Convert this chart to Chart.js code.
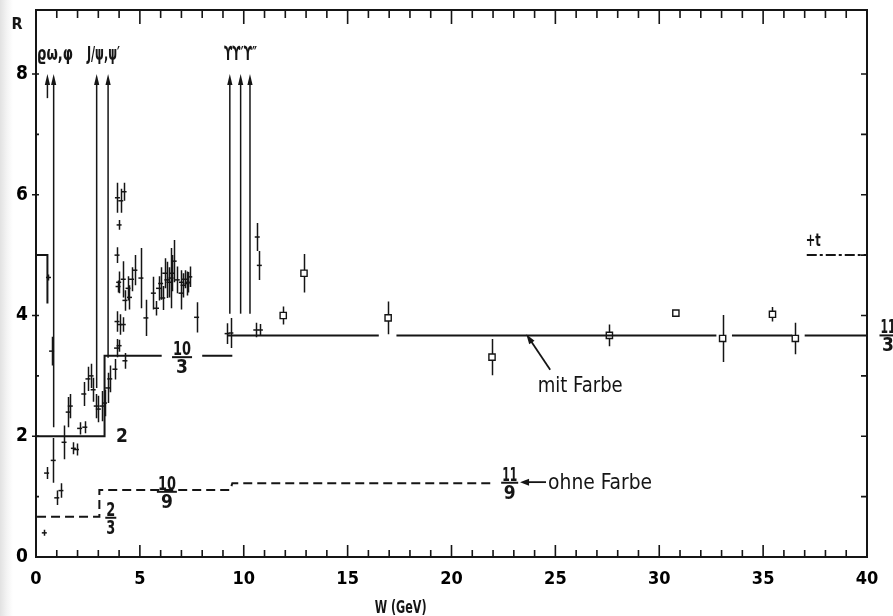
<!DOCTYPE html>
<html>
<head>
<meta charset="utf-8">
<title>R vs W</title>
<script src="https://cdn.jsdelivr.net/npm/chart.js@4.4.1/dist/chart.umd.min.js"></script>
<style>
  html, body { margin: 0; padding: 0; background: #fff; }
  #wrap { width: 893px; height: 616px; position: relative;
          background: linear-gradient(to right, #e2e2e2 0px, #f4f4f4 7px, #fff 13px); }
</style>
</head>
<body>
<div id="wrap"><canvas id="rplot"></canvas></div>
<script>
// low energy measurements: W (GeV), R, error
var lowW   = [0.40, 0.51, 0.60, 0.75, 0.83, 1.00, 1.20, 1.35, 1.55, 1.65, 1.80, 1.95, 2.10, 2.30, 2.35,
              2.50, 2.65, 2.75, 2.90, 3.00, 3.17, 3.30, 3.45, 3.55, 3.80, 3.88, 3.90, 3.90, 3.92, 3.95,
              3.98, 4.00, 4.00, 4.04, 4.08, 4.20, 4.20, 4.24, 4.28, 4.28, 4.43, 4.50, 4.60, 4.76, 5.05,
              5.29, 5.65, 5.80, 5.90, 6.00, 6.10, 6.20, 6.30, 6.40, 6.50, 6.55, 6.65, 6.80, 6.98, 7.00,
              7.08, 7.15, 7.27, 7.33, 7.40, 7.73, 9.20, 9.38, 10.58, 10.65, 10.75, 10.80];
var lowR   = [0.40, 1.39, 4.63, 3.41, 1.60, 0.98, 1.10, 1.90, 2.40, 2.50, 1.80, 1.78, 2.13, 2.70, 2.15,
              2.95, 3.00, 2.77, 2.50, 2.45, 2.50, 2.55, 2.80, 2.95, 3.11, 3.46, 3.90, 5.00, 5.95, 4.48,
              4.55, 3.50, 5.50, 3.85, 5.90, 3.85, 4.60, 6.05, 3.25, 4.25, 4.45, 4.30, 4.60, 4.75, 4.62,
              3.96, 4.37, 4.12, 4.45, 4.53, 4.29, 4.70, 4.59, 4.55, 4.62, 4.70, 4.90, 4.59, 4.37, 4.55,
              4.50, 4.60, 4.53, 4.55, 4.64, 3.97, 3.70, 3.71, 3.76, 5.30, 4.83, 3.76];
var lowErr = [0.05, 0.10, 0.05, 0.24, 0.37, 0.12, 0.12, 0.28, 0.25, 0.20, 0.10, 0.10, 0.10, 0.20, 0.10,
              0.20, 0.20, 0.20, 0.20, 0.22, 0.25, 0.22, 0.25, 0.22, 0.17, 0.15, 0.17, 0.13, 0.25, 0.10,
              0.18, 0.10, 0.08, 0.17, 0.20, 0.12, 0.30, 0.15, 0.13, 0.17, 0.20, 0.20, 0.20, 0.25, 0.50,
              0.30, 0.27, 0.12, 0.20, 0.27, 0.20, 0.25, 0.30, 0.25, 0.50, 0.30, 0.35, 0.22, 0.27, 0.20,
              0.20, 0.15, 0.20, 0.17, 0.17, 0.25, 0.17, 0.25, 0.12, 0.23, 0.24, 0.10];

// high energy measurements (open squares)
var highW   = [11.9, 12.9, 16.95, 21.95, 27.6, 30.8, 33.05, 35.45, 36.55];
var highR   = [4.00, 4.70, 3.96, 3.31, 3.67, 4.04, 3.62, 4.02, 3.62];
var highErr = [0.15, 0.32, 0.27, 0.30, 0.18, 0.00, 0.39, 0.12, 0.26];

// quark model expectation with colour (solid), null = gap
var colourW = [0, 3.3, 3.3, 6.05, null, 8.0, 9.45, null, 9.2, 16.5, null, 17.35, 32.75, null, 33.5, 36.4, null, 37.0, 40];
var colourR = [2, 2, 10/3, 10/3, null, 10/3, 10/3, null, 11/3, 11/3, null, 11/3, 11/3, null, 11/3, 11/3, null, 11/3, 11/3];

// without colour (dashed)
var noColourW = [0.05, 3.05, 3.05, 9.35, 9.45, 22.0];
var noColourR = [2/3, 2/3, 10/9, 10/9, 11/9, 11/9];

// top quark threshold (dash-dot)
var topW = [37.1, 40];
var topR = [5, 5];

// step near the rho
var rhoW = [0, 0.55, 0.55];
var rhoR = [5, 5, 4.2];

// resonance arrows: position, foot, tip
var arrowW    = [0.55, 0.85, 2.92, 3.47, 9.33, 9.85, 10.3];
var arrowFoot = [7.6, 2.15, 2.8, 3.3, 4.03, 4.03, 4.03];
var arrowTip  = [8.0, 8.0, 8.0, 8.0, 8.0, 8.0, 8.0];

var ink = '#151515';
var narrow = '"Liberation Sans Narrow", "DejaVu Sans Condensed", "Liberation Sans", Arial, sans-serif';

function pts(xs, ys) {
  return xs.map(function(x, i) { return { x: x, y: ys[i] }; });
}

function drawArrow(ctx, x1, y1, x2, y2, len, half) {
  var ang = Math.atan2(y2 - y1, x2 - x1);
  var bx = x2 - Math.cos(ang) * len, by = y2 - Math.sin(ang) * len;
  ctx.beginPath();
  ctx.moveTo(x1, y1);
  ctx.lineTo(bx + Math.cos(ang) * 2, by + Math.sin(ang) * 2);
  ctx.stroke();
  ctx.beginPath();
  ctx.moveTo(x2, y2);
  ctx.lineTo(bx - Math.sin(ang) * half, by + Math.cos(ang) * half);
  ctx.lineTo(bx + Math.sin(ang) * half, by - Math.cos(ang) * half);
  ctx.closePath();
  ctx.fill();
}

function fraction(ctx, x, y, num, den, size, w) {
  ctx.font = 'bold ' + size + 'px ' + narrow;
  ctx.textAlign = 'center';
  ctx.textBaseline = 'alphabetic';
  ctx.fillText(num, x, y - 2, w);
  ctx.fillText(den, x, y + size - 3, w);
  ctx.fillRect(x - w / 2 - 1, y - 1, w + 2, 2);
}

var errorBars = {
  id: 'errorBars',
  beforeDatasetsDraw: function(chart) {
    var ctx = chart.ctx, xs = chart.scales.x, ys = chart.scales.y;
    ctx.save();
    ctx.strokeStyle = ink;
    ctx.lineWidth = 1.5;
    chart.data.datasets.forEach(function(ds) {
      if (!ds.errors) return;
      ctx.beginPath();
      ds.data.forEach(function(p, j) {
        var e = ds.errors[j];
        if (!e) return;
        var px = Math.round(xs.getPixelForValue(p.x)) + 0.5;
        ctx.moveTo(px, ys.getPixelForValue(p.y - e));
        ctx.lineTo(px, ys.getPixelForValue(p.y + e));
      });
      ctx.stroke();
    });
    ctx.restore();
  }
};

var frameAndNotes = {
  id: 'frameAndNotes',
  afterDraw: function(chart) {
    var ctx = chart.ctx, a = chart.chartArea, xs = chart.scales.x, ys = chart.scales.y;
    var X = function(v) { return xs.getPixelForValue(v); };
    var Y = function(v) { return ys.getPixelForValue(v); };
    ctx.save();
    ctx.strokeStyle = ink;
    ctx.fillStyle = ink;

    // frame with inward ticks
    ctx.lineWidth = 2;
    ctx.strokeRect(a.left, a.top, a.right - a.left, a.bottom - a.top);
    ctx.lineWidth = 1.6;
    ctx.beginPath();
    for (var w = 1; w < 40; w++) {
      var major = w % 5 === 0;
      ctx.moveTo(X(w), a.bottom); ctx.lineTo(X(w), a.bottom - (major ? 12 : 7));
      ctx.moveTo(X(w), a.top);    ctx.lineTo(X(w), a.top + (major ? 14 : 8));
    }
    for (var r = 1; r <= 8; r++) {
      ctx.moveTo(a.left - (r % 2 === 0 ? 4 : 0), Y(r)); ctx.lineTo(a.left + 3, Y(r));
      ctx.moveTo(a.right, Y(r)); ctx.lineTo(a.right - 6, Y(r));
    }
    ctx.stroke();

    // resonance arrows
    ctx.lineWidth = 1.5;
    arrowW.forEach(function(aw, i) {
      drawArrow(ctx, X(aw), Y(arrowFoot[i]), X(aw), Y(arrowTip[i]), 11, 2.6);
    });

    // resonance names
    ctx.textAlign = 'left';
    ctx.textBaseline = 'alphabetic';
    ctx.font = 'bold 19px ' + narrow;
    ctx.fillText('ϱω,φ', X(0.05), Y(8.24), 36);
    ctx.fillText('J/ψ,ψ\u2032', X(2.45), Y(8.24), 33);
    ctx.fillText('ϒϒ\u2032ϒ\u2033', X(9.05), Y(8.24), 33);

    // axis names
    ctx.font = 'bold 16px ' + narrow;
    ctx.textAlign = 'center';
    ctx.fillText('R', a.left - 19, Y(8.75));
    ctx.font = 'bold 17px ' + narrow;
    ctx.textAlign = 'left';
    ctx.fillText('W (GeV)', X(16.3), Y(-0.93), 52);

    // step values
    ctx.font = 'bold 19px ' + narrow;
    ctx.textAlign = 'center';
    ctx.fillText('2', X(4.14), Y(1.9));
    fraction(ctx, X(7.03), Y(3.31), '10', '3', 19, 18);
    fraction(ctx, X(6.3), Y(1.08), '10', '9', 19, 18);
    fraction(ctx, X(3.6), Y(0.65), '2', '3', 19, 9);
    fraction(ctx, X(22.8), Y(1.23), '11', '9', 19, 15);
    fraction(ctx, a.right + 21, Y(3.67), '11', '3', 19, 15);

    // +t threshold
    ctx.font = 'bold 17px ' + narrow;
    ctx.textAlign = 'left';
    ctx.fillText('+t', X(37.05), Y(5.15), 15);

    // curve labels with pointers
    ctx.font = '22px ' + narrow;
    ctx.fillText('ohne Farbe', X(24.65), Y(1.12), 104);
    ctx.fillText('mit Farbe', X(24.15), Y(2.74), 85);
    ctx.lineWidth = 1.8;
    drawArrow(ctx, X(24.55), Y(1.24), X(23.3), Y(1.24), 9, 3.5);
    drawArrow(ctx, X(24.75), Y(3.1), X(23.6), Y(3.69), 10, 3.2);
    ctx.restore();
  }
};

new Chart(document.getElementById('rplot'), {
  type: 'scatter',
  data: {
    datasets: [
      { label: 'mit Farbe', data: pts(colourW, colourR), showLine: true, spanGaps: false,
        borderColor: ink, borderWidth: 2, pointRadius: 0 },
      { label: 'ohne Farbe', data: pts(noColourW, noColourR), showLine: true,
        borderColor: ink, borderWidth: 2, borderDash: [9, 5], pointRadius: 0 },
      { label: '+t', data: pts(topW, topR), showLine: true,
        borderColor: ink, borderWidth: 2, borderDash: [10, 3, 3, 3], pointRadius: 0 },
      { label: 'rho', data: pts(rhoW, rhoR), showLine: true,
        borderColor: ink, borderWidth: 2, pointRadius: 0 },
      { label: 'low', data: pts(lowW, lowR), errors: lowErr,
        pointStyle: 'line', pointRadius: 2.5, borderColor: ink, borderWidth: 1.5 },
      { label: 'high', data: pts(highW, highR), errors: highErr,
        pointStyle: 'rect', pointRadius: 4.4, backgroundColor: '#fff', borderColor: ink, borderWidth: 1.4 }
    ]
  },
  options: {
    responsive: true,
    maintainAspectRatio: false,
    animation: false,
    events: [],
    layout: { padding: { top: 10, right: 26, left: 0, bottom: 0 } },
    plugins: { legend: { display: false }, tooltip: { enabled: false } },
    scales: {
      x: {
        type: 'linear', min: 0, max: 40,
        grid: { display: false, drawTicks: false }, border: { display: false },
        ticks: { stepSize: 5, padding: 12, color: '#000', font: { family: narrow, size: 18, weight: 'bold' } },
        afterFit: function(s) { s.height = 59; s.paddingLeft = 0; s.paddingRight = 0; }
      },
      y: {
        type: 'linear', min: 0, max: 9.06,
        grid: { display: false, drawTicks: false }, border: { display: false },
        ticks: { stepSize: 2, includeBounds: false, padding: 8, color: '#000', font: { family: narrow, size: 19, weight: 'bold' } },
        afterFit: function(s) { s.width = 36; s.paddingTop = 0; s.paddingBottom = 0; }
      }
    }
  },
  plugins: [errorBars, frameAndNotes]
});
</script>
</body>
</html>
